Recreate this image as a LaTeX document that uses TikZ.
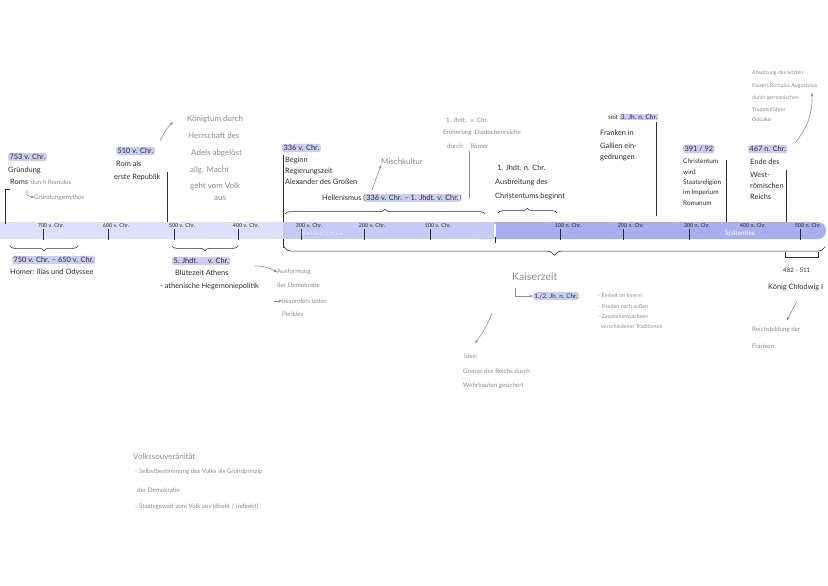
\documentclass[tikz,border=0pt]{standalone}
\usepackage{fontspec}
\setmainfont{Lato}
\usetikzlibrary{arrows.meta, positioning, decorations.pathreplacing}
\definecolor{barA}{HTML}{DDE0F8}
\definecolor{barB}{HTML}{C6CAF4}
\definecolor{barC}{HTML}{A9AEEF}
\definecolor{mark}{HTML}{CACDF1}
\definecolor{ink}{HTML}{2E2E2E}
\definecolor{pencil}{HTML}{8E8E8E}
\definecolor{dotc}{HTML}{D8D8D8}
\newcommand{\hlm}[1]{{\setlength{\fboxsep}{0.8pt}\colorbox{mark}{#1}}}

\begin{document}
\begin{tikzpicture}[
    x=0.03cm, y=-0.03cm,
    txt/.style={anchor=west, inner sep=0pt, text=ink, font=\fontsize{6.3}{7}\selectfont},
    note/.style={txt, text=pencil, font=\fontsize{5.3}{6}\selectfont},
    bignote/.style={txt, text=pencil, font=\fontsize{6.8}{8}\selectfont},
    datebox/.style={txt, fill=mark, rounded corners=2pt, inner sep=1.2pt},
    ticklabel/.style={inner sep=0pt, text=ink, font=\fontsize{4.6}{5}\selectfont},
    stem/.style={draw=ink, line width=0.5pt},
    hint/.style={-{Stealth[length=3pt,width=2.5pt]}, draw=pencil, line width=0.5pt},
    brc/.style={decorate, decoration={brace, amplitude=4pt}, draw=ink, line width=0.5pt}
]
\useasboundingbox[fill=white] (0,0) rectangle (828,586);
% dot grid
\foreach \i in {0,...,43}
  \foreach \j in {0,...,30}
    \fill[dotc] (9+19*\i, 6+19*\j) circle (0.4pt);

% timeline bar
\fill[barC, rounded corners=7pt] (470,222) rectangle (826,239);
\fill[barB] (283,222) rectangle (495,239);
\fill[barA] (0,222) rectangle (283,239);
\foreach \x/\yr in {43/700 v. Chr., 108/600 v. Chr., 174/500 v. Chr., 238/400 v. Chr.,
                    301/300 v. Chr., 364/200 v. Chr., 430/100 v. Chr.,
                    560/100 n. Chr., 623/200 n. Chr., 689/300 n. Chr., 800/500 n. Chr.}
{
  \draw[ink, line width=0.5pt] (\x,229) -- (\x,240);
  \node[ticklabel] at (\x+8,225.5) {\yr};
}
\node[ticklabel] (t400) at (753,225.5) {400 n. Chr.};
\node[inner sep=0pt, text=white, font=\fontsize{5.6}{6}\selectfont] (spaet) at (740,234) {Spätantike};
\node[inner sep=0pt, text=white, opacity=0.55, font=\fontsize{5}{6}\selectfont] (helbar) at (322,233) {H\,e\,l\,l\,e\,n\,i\,s\,m\,u\,s};
% year zero
\draw[white, line width=1.6pt] (495,224) -- (495,237);
\draw[ink, line width=0.5pt] (495,237) -- (495,243);

% 753
\node[datebox] (d753) at (8,157) {753 v. Chr.};
\node[txt] (g1) at (8,170) {Gründung};
\node[txt] (g2) at (10,182) {Roms};
\node[note] (g3) [right=2pt of g2] {durch Romulus};
\node[note] (g4) at (34,198) {Gründungsmythos};
\draw[hint] (27,190) -- (27,195) -- (g4.west);
\coordinate (s753) at (5,224);
\draw[stem] (10,189) -- (5,189) -- (s753);

% 510
\node[datebox] (d510) at (116,151) {510 v. Chr.};
\node[txt] (r1) at (116,164) {Rom als};
\node[txt] (r2) at (114,177) {erste Republik};
\coordinate (s510) at (167,222);
\draw[stem] (167,172) -- (s510);
\node[bignote] (k1) at (187,119) {Königtum durch};
\node[bignote] (k2) at (188,136) {Herrschaft des};
\node[bignote] (k3) at (191,153) {Adels abgelöst};
\node[bignote] (k4) at (190,170) {allg. Macht};
\node[bignote] (k5) at (190,186) {geht vom Volk};
\node[bignote] (k6) at (214,198) {aus};
\draw[hint] (160,141) to[bend left=10] (173,122);

% 750-650
\draw[brc] (78,246) -- (10,246);
\node[datebox] (d750) at (12,260) {750 v. Chr. -- 650 v. Chr.};
\node[txt] (h1) at (10,272) {Homer: Ilias und Odyssee};

% 5. Jhdt
\draw[brc] (238,246) -- (172,246);
\node[datebox] (d5j) at (172,261) {5. Jhdt. \quad v. Chr.};
\node[txt] (a1) at (175,273) {Blütezeit Athens};
\node[txt] (a2) at (160,286) {- athenische Hegemoniepolitik};
\node[note] (a3) at (277,272) {Ausformung};
\node[note] (a4) at (277,285) {der Demokratie};
\node[note] (a5) at (282,301) {besonders unter};
\node[note] (a6) at (282,314) {Perikles};
\draw[hint] (255,266) to[bend left=15] (a3.west);
\draw[hint] (274,301) -- (a5.west);

% 336
\node[datebox] (d336) at (282,148) {336 v. Chr.};
\node[txt] (b1) at (285,160) {Beginn};
\node[txt] (b2) at (285,171) {Regierungszeit};
\node[txt] (b3) at (285,182) {Alexander des Großen};
\coordinate (s336) at (283,222);
\draw[stem] (283,155) -- (s336);

% Hellenismus
\node[txt] (hel) at (322,198) {Hellenismus (\hlm{336 v. Chr. -- 1. Jhdt. v. Chr.})};
\draw[brc] (285,214) -- (485,214);
\node[bignote] (misch) at (381,162) {Mischkultur};
\draw[hint] (372,190) -- (misch.south west);

% 1. Jhdt v. Chr.
\node[note] (e1) at (446,120) {1. Jhdt. \ v. Chr.};
\node[note] (e2) at (443,133) {Eroberung \ Diadochenreiche};
\node[note] (e3) at (447,146) {durch \quad Römer};
\draw[pencil, line width=0.5pt] (469,151) -- (469,198);

% 1. Jhdt n. Chr.
\node[txt] (c1) at (497,168) {1. Jhdt. n. Chr.};
\node[txt] (c2) at (495,182) {Ausbreitung des};
\node[txt] (c3) at (495,196) {Christentums beginnt};
\draw[brc] (498,213) -- (557,213);

% 3. Jh.
\node[txt, font=\fontsize{5.5}{6}\selectfont] (f0) at (608,117) {seit \hlm{3. Jh. n. Chr.}};
\node[txt] (f1) at (600,133) {Franken in};
\node[txt] (f2) at (600,146) {Gallien ein-};
\node[txt] (f3) at (600,157) {gedrungen};
\coordinate (s300) at (656,216);
\draw[stem] (656,122) -- (s300);

% 391/92
\node[datebox] (d391) at (683,149) {391 / 92};
\node[txt, font=\fontsize{5.5}{6}\selectfont] (x1) at (683,161) {Christentum};
\node[txt, font=\fontsize{5.5}{6}\selectfont] (x2) at (683,172) {wird};
\node[txt, font=\fontsize{5.5}{6}\selectfont] (x3) at (683,183) {Staatsreligion};
\node[txt, font=\fontsize{5.5}{6}\selectfont] (x4) at (683,193) {im Imperium};
\node[txt, font=\fontsize{5.5}{6}\selectfont] (x5) at (683,203) {Romanum};
\coordinate (s391) at (726,222);
\draw[stem] (726,160) -- (s391);

% 467
\node[datebox] (d467) at (748,149) {467 n. Chr.};
\node[txt] (w1) at (750,162) {Ende des};
\node[txt] (w2) at (750,175) {West-};
\node[txt] (w3) at (750,186) {römischen};
\node[txt] (w4) at (750,197) {Reichs};
\coordinate (s467) at (786,222);
\draw[stem] (786,170) -- (s467);
\node[note, font=\fontsize{4.5}{5}\selectfont] (o1) at (752,73) {Absetzung des letzten};
\node[note, font=\fontsize{4.5}{5}\selectfont] (o2) at (752,86) {Kaisers Romulus Augustulus};
\node[note, font=\fontsize{4.5}{5}\selectfont] (o3) at (752,98) {durch germanischen};
\node[note, font=\fontsize{4.5}{5}\selectfont] (o4) at (752,110) {Truppenführer};
\node[note, font=\fontsize{4.5}{5}\selectfont] (o5) at (752,120) {Odoaker};
\draw[hint] (795,143) to[bend right=20] (812,93);

% Kaiserzeit
\draw[brc, decoration={brace, amplitude=7pt}] (825,247) -- (284,247);
\draw[stem] (283,239) -- (283,248);
\node[txt, text=pencil, font=\fontsize{9}{10}\selectfont] (kz) at (512,277) {Kaiserzeit};
\node[datebox, font=\fontsize{5.3}{6}\selectfont] (d12) at (533,296) {1./2. Jh. n. Chr.};
\draw[hint] (515,288) -- (515,296) -- (d12.west);
\node[note, font=\fontsize{4.6}{5}\selectfont] (p1) at (598,296) {- Einheit im Innern};
\node[note, font=\fontsize{4.6}{5}\selectfont] (p2) at (598,307) {- Frieden nach außen};
\node[note, font=\fontsize{4.6}{5}\selectfont] (p3) at (598,317) {- Zusammenwachsen};
\node[note, font=\fontsize{4.6}{5}\selectfont] (p4) at (601,327) {verschiedener Traditionen};
\node[note] (i1) at (464,356) {Idee:};
\node[note] (i2) at (463,371) {Grenze des Reichs durch};
\node[note] (i3) at (463,386) {Wehrbauten gesichert};
\draw[hint] (492,313) to[bend left=8] (475,343);

% 482-511
\draw[stem] (785,252) -- (785,257) -- (818,257) -- (818,252);
\node[txt, font=\fontsize{5.3}{6}\selectfont] (kl1) at (783,270) {482 - 511};
\node[txt] (kl2) at (768,287) {König Chlodwig I};
\node[note] (fr1) at (752,330) {Reichsbildung der};
\node[note] (fr2) at (752,346) {Franken};
\draw[hint] (797,301) -- (787,320);

% Volkssouveraenitaet
\node[bignote] (v1) at (133,457) {Volkssouveränität};
\node[note] (v2) at (135,472) {- Selbstbestimmung des Volks als Grundprinzip};
\node[note] (v3) at (137,490) {der Demokratie};
\node[note] (v4) at (135,507) {- Staatsgewalt vom Volk aus (direkt / indirekt)};
\end{tikzpicture}
\end{document}
